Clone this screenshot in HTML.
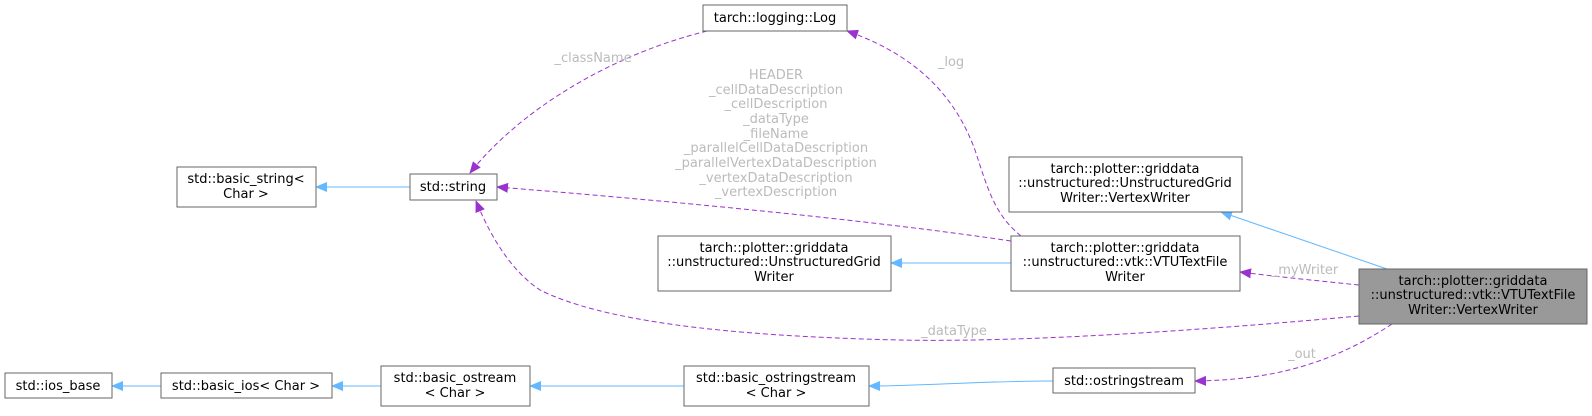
<!DOCTYPE html>
<html><head><meta charset="utf-8"><style>
html,body{margin:0;padding:0;background:#fff;}
svg text{font-family:"DejaVu Sans","Liberation Sans",sans-serif;font-size:13px;}
.b{fill:#fff;stroke:#666;stroke-width:1;}
.t{fill:#000;text-anchor:middle;}
.l{fill:#bbb;text-anchor:middle;}
.inh{stroke:#63b8ff;fill:none;stroke-width:1;}
.use{stroke:#9a32cd;fill:none;stroke-width:1;stroke-dasharray:5,3;}
</style></head><body>
<svg width="1592" height="411" xmlns="http://www.w3.org/2000/svg">
<defs>
<marker id="ab" markerWidth="12" markerHeight="10" refX="11" refY="5" orient="auto" markerUnits="userSpaceOnUse"><path d="M0,0 L12,5 L0,10 z" fill="#63b8ff"/></marker>
<marker id="ap" markerWidth="12" markerHeight="10" refX="11" refY="5" orient="auto" markerUnits="userSpaceOnUse"><path d="M0,0 L12,5 L0,10 z" fill="#9a32cd"/></marker>
</defs>

<path class="inh" d="M410,187 L316,187" marker-end="url(#ab)"/>
<path class="inh" d="M1387,269 L1221,212" marker-end="url(#ab)"/>
<path class="inh" d="M1011,263 L891,263" marker-end="url(#ab)"/>
<path class="inh" d="M1053,381 C980,381 920,386 869,386" marker-end="url(#ab)"/>
<path class="inh" d="M684,386 L530,386" marker-end="url(#ab)"/>
<path class="inh" d="M381,386 L332,386" marker-end="url(#ab)"/>
<path class="inh" d="M161,386 L112,386" marker-end="url(#ab)"/>

<path class="use" d="M707,31 C610,55 520,110 470,173" marker-end="url(#ap)"/>
<path class="use" d="M1021,236 C995,215 988,190 975,150 C960,110 930,60 847,31" marker-end="url(#ap)"/>
<path class="use" d="M1011,241 C870,220 660,200 497,187" marker-end="url(#ap)"/>
<path class="use" d="M1359,316 C1150,335 1000,342 900,340 C720,336 600,320 540,290 C510,270 490,235 476,201" marker-end="url(#ap)"/>
<path class="use" d="M1359,285 C1320,281 1280,277 1240,272" marker-end="url(#ap)"/>
<path class="use" d="M1392,324 C1330,365 1270,380 1195,381" marker-end="url(#ap)"/>

<text class="l" x="593" y="62">_className</text>
<text class="l" x="951" y="66">_log</text>
<text class="l" x="776" y="79">HEADER</text>
<text class="l" x="776" y="94">_cellDataDescription</text>
<text class="l" x="776" y="108">_cellDescription</text>
<text class="l" x="776" y="123">_dataType</text>
<text class="l" x="776" y="138">_fileName</text>
<text class="l" x="776" y="152">_parallelCellDataDescription</text>
<text class="l" x="776" y="167">_parallelVertexDataDescription</text>
<text class="l" x="776" y="182">_vertexDataDescription</text>
<text class="l" x="776" y="196">_vertexDescription</text>
<text class="l" x="1305" y="274">_myWriter</text>
<text class="l" x="954" y="335">_dataType</text>
<text class="l" x="1302" y="358">_out</text>

<rect class="b" x="703" y="5" width="144" height="26"/>
<text class="t" x="775" y="22">tarch::logging::Log</text>

<rect class="b" x="410" y="174" width="87" height="26"/>
<text class="t" x="453" y="191">std::string</text>

<rect class="b" x="177" y="167" width="139" height="40"/>
<text class="t" x="246" y="183">std::basic_string&lt;</text>
<text class="t" x="246" y="198">Char &gt;</text>

<rect class="b" x="1009" y="157" width="233" height="55"/>
<text class="t" x="1125" y="173">tarch::plotter::griddata</text>
<text class="t" x="1125" y="187">::unstructured::UnstructuredGrid</text>
<text class="t" x="1125" y="202">Writer::VertexWriter</text>

<rect class="b" x="1011" y="236" width="229" height="55"/>
<text class="t" x="1125" y="252">tarch::plotter::griddata</text>
<text class="t" x="1125" y="266">::unstructured::vtk::VTUTextFile</text>
<text class="t" x="1125" y="281">Writer</text>

<rect class="b" x="658" y="236" width="233" height="55"/>
<text class="t" x="774" y="252">tarch::plotter::griddata</text>
<text class="t" x="774" y="266">::unstructured::UnstructuredGrid</text>
<text class="t" x="774" y="281">Writer</text>

<rect x="1359" y="269" width="228" height="55" fill="#999" stroke="#666"/>
<text class="t" x="1473" y="285">tarch::plotter::griddata</text>
<text class="t" x="1473" y="299">::unstructured::vtk::VTUTextFile</text>
<text class="t" x="1473" y="314">Writer::VertexWriter</text>

<rect class="b" x="1053" y="368" width="142" height="25"/>
<text class="t" x="1124" y="385">std::ostringstream</text>

<rect class="b" x="684" y="366" width="185" height="40"/>
<text class="t" x="776" y="382">std::basic_ostringstream</text>
<text class="t" x="776" y="397">&lt; Char &gt;</text>

<rect class="b" x="381" y="366" width="149" height="40"/>
<text class="t" x="455" y="382">std::basic_ostream</text>
<text class="t" x="455" y="397">&lt; Char &gt;</text>

<rect class="b" x="161" y="373" width="171" height="25"/>
<text class="t" x="246" y="390">std::basic_ios&lt; Char &gt;</text>

<rect class="b" x="5" y="373" width="107" height="25"/>
<text class="t" x="58" y="390">std::ios_base</text>
</svg>
</body></html>
